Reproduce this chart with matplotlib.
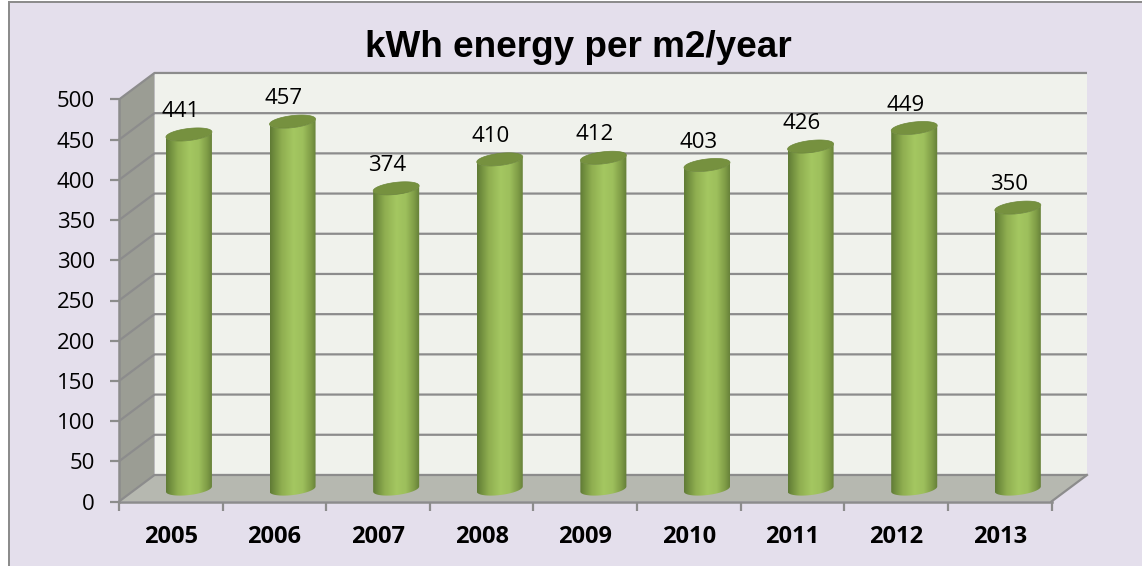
import numpy as np
import matplotlib
matplotlib.use('Agg')
import matplotlib.pyplot as plt
from matplotlib.colors import LinearSegmentedColormap
from matplotlib.patches import Polygon, Rectangle

years = ['2005', '2006', '2007', '2008', '2009', '2010', '2011', '2012', '2013']
kwh = [441, 457, 374, 410, 412, 403, 426, 449, 350]
y_ticks = [0, 50, 100, 150, 200, 250, 300, 350, 400, 450, 500]
title = 'kWh energy per m2/year'

W, H = 1142, 566
bg = '#e4dfec'
line_col = '#8c8c8c'

# depth of the fake 3d box, in data units
dx = 0.3427
dy = 33
# cylinder shape, in data units
bar_hw = 0.222
bar_hh = 7.5
bar_shear = 3.2
bar_dx = 0.175
bar_dy = 15.5

fig = plt.figure(figsize=(W / 100, H / 100), dpi=100, facecolor=bg)
ax = fig.add_axes([119 / W, (H - 501.5) / H, 932.5 / W, 402 / H])
ax.set_xlim(0, 9)
ax.set_ylim(0, 500)
ax.patch.set_visible(False)

# white outside the frame + frame lines
fig.patches.append(Rectangle((0, 0), 8 / W, 1, transform=fig.transFigure, fc='white', ec='none'))
fig.patches.append(Rectangle((0, 1 - 1 / H), 1, 1 / H, transform=fig.transFigure, fc='white', ec='none'))
fig.patches.append(Rectangle((8 / W, 0), 2.2 / W, 1 - 1 / H, transform=fig.transFigure, fc=line_col, ec='none'))
fig.patches.append(Rectangle((8 / W, 1 - 3.2 / H), 1 - 8 / W, 2.2 / H, transform=fig.transFigure, fc=line_col, ec='none'))

# walls and floor
ax.add_patch(Polygon([(dx, dy), (9 + dx, dy), (9 + dx, 500 + dy), (dx, 500 + dy)], fc='#f0f2ec', ec='none', clip_on=False, zorder=1))
ax.add_patch(Polygon([(0, 0), (dx, dy), (dx, 500 + dy), (0, 500)], fc='#9b9d94', ec='none', clip_on=False, zorder=1))
ax.add_patch(Polygon([(0, 0), (9, 0), (9 + dx, dy), (dx, dy)], fc='#b6b8b0', ec='none', clip_on=False, zorder=1))

for t in y_ticks:
    ax.plot([0, dx, 9 + dx], [t, t + dy, t + dy], color=line_col, lw=1.6, clip_on=False, zorder=2, solid_capstyle='butt')
ax.plot([9, 9 + dx], [0, dy], color=line_col, lw=1.6, clip_on=False, zorder=2)

# cylinders
cmap = LinearSegmentedColormap.from_list('cyl', [
    (0.0, '#5f7a35'), (0.08, '#6f8c3d'), (0.25, '#8fae50'), (0.5, '#a4c761'),
    (0.7, '#9dbf5c'), (0.88, '#7f9c46'), (1.0, '#627c37')])
grad = np.linspace(0, 1, 256).reshape(1, -1)
t = np.linspace(0, np.pi, 60)

for i, v in enumerate(kwh):
    cx = i + 0.5 + bar_dx
    base = bar_dy
    top = v + bar_dy
    # lower half of an ellipse, left to right
    ex = cx - bar_hw * np.cos(t)
    low = -bar_hh * np.sin(t) + bar_shear * (ex - cx) / bar_hw
    body = np.r_[np.c_[ex, base + low], np.c_[ex[::-1], top + low[::-1]]]
    poly = Polygon(body, fc='none', ec='none', transform=ax.transData, clip_on=False)
    ax.add_patch(poly)
    im = ax.imshow(grad, extent=[cx - bar_hw, cx + bar_hw, 0, top + bar_hh + 5], cmap=cmap,
                   aspect='auto', zorder=3, interpolation='bilinear')
    im.set_clip_path(poly)
    # top cap
    ang = np.linspace(0, 2 * np.pi, 90)
    cap_x = cx - bar_hw * np.cos(ang)
    cap_y = top + bar_hh * np.sin(ang) + bar_shear * (cap_x - cx) / bar_hw
    ax.add_patch(Polygon(np.c_[cap_x, cap_y], fc='#76913f', ec='#6c8739', lw=0.5, clip_on=False, zorder=4))
    ax.text(i + 0.5 + 0.09, v + 44, str(v), ha='center', va='center', fontsize=16,
            family='Open Sans', color='black', zorder=5, clip_on=False)

ax.set_xlim(0, 9)
ax.set_ylim(0, 500)

# axes
for s in ['top', 'right']:
    ax.spines[s].set_visible(False)
for s in ['left', 'bottom']:
    ax.spines[s].set_color(line_col)
    ax.spines[s].set_linewidth(1.8)
    ax.spines[s].set_zorder(2.5)

ax.set_yticks(y_ticks)
ax.set_yticklabels([str(t) for t in y_ticks], fontsize=16, family='Open Sans')
ax.tick_params(axis='y', length=6.5, width=1.6, color=line_col, pad=11)
ax.set_xticks(range(len(years) + 1))
ax.set_xticklabels([])
ax.tick_params(axis='x', which='major', length=6.5, width=1.6, color=line_col)
ax.set_xticks(np.arange(len(years)) + 0.5, minor=True)
ax.set_xticklabels(years, minor=True, fontsize=17, fontweight='bold', family='Open Sans')
ax.tick_params(axis='x', which='minor', length=0, pad=17)

fig.text(578 / W, 1 - 56.7 / H, title, ha='center', va='baseline', fontsize=26.6,
         fontweight='bold', family='Liberation Sans', color='black')

fig.savefig('out.png', dpi=100, facecolor=bg)
